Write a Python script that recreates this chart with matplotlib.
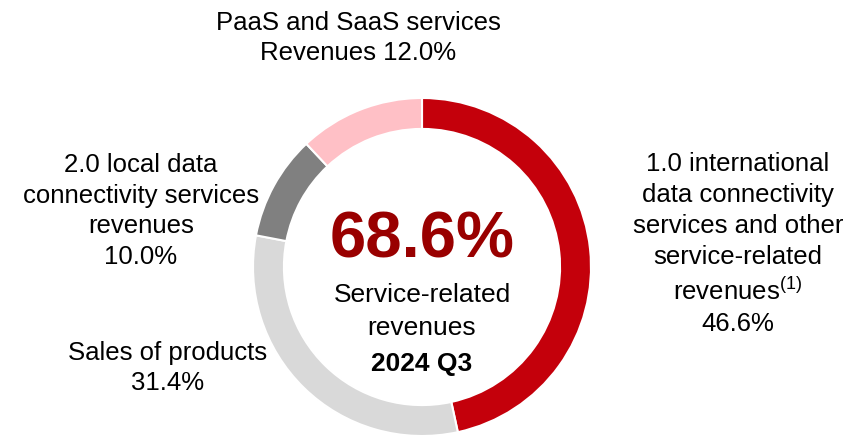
import matplotlib
matplotlib.use('Agg')
import matplotlib.pyplot as plt

plt.rcParams['font.family']=['Liberation Sans','DejaVu Sans']
plt.rcParams['mathtext.fontset']='custom'
plt.rcParams['mathtext.rm']='Liberation Sans'
plt.rcParams['mathtext.it']='Liberation Sans'

categories=['1.0 international data connectivity services and other service-related revenues',
            'Sales of products',
            '2.0 local data connectivity services revenues',
            'PaaS and SaaS services Revenues']
shares=[46.6,31.4,10.0,12.0]
colors=['#C4000B','#D9D9D9','#808080','#FFC0C6']
service_share=68.6
period='2024 Q3'

fig=plt.figure(figsize=(8.48,4.37),dpi=100)
ax=fig.add_axes([0,0,1,1])

cx,cy,r=422,267,169
# y axis is flipped below, so counterclock here reads clockwise on screen
ax.pie(shares,colors=colors,startangle=-90,counterclock=True,center=(cx,cy),radius=r,
       wedgeprops=dict(width=r*0.183,edgecolor='white',linewidth=1.5),normalize=True)
ax.set_xlim(0,848)
ax.set_ylim(437,0)
ax.set_aspect('equal')
ax.axis('off')

fs=18.5
ax.text(cx,240,f'{service_share:.1f}%',ha='center',va='center',fontsize=47,
        fontweight='bold',color='#990000')
ax.text(cx,295,'Service-related',ha='center',va='center',fontsize=19)
ax.text(cx,328,'revenues',ha='center',va='center',fontsize=19)
ax.text(cx,364,period,ha='center',va='center',fontsize=19,fontweight='bold')

ax.text(738,244,'1.0 international\ndata connectivity\nservices and other\nservice-related\nrevenues$^{(1)}$\n'
        +f'{shares[0]:.1f}%',ha='center',va='center',fontsize=fs,linespacing=1.38)
ax.text(168,368,f'Sales of products\n{shares[1]:.1f}%',ha='center',va='center',fontsize=fs,linespacing=1.3)
ax.text(141,211,f'2.0 local data\nconnectivity services\nrevenues\n{shares[2]:.1f}%',
        ha='center',va='center',fontsize=fs,linespacing=1.35)
ax.text(358,38,f'PaaS and SaaS services\nRevenues {shares[3]:.1f}%',ha='center',va='center',
        fontsize=fs,linespacing=1.3)

fig.savefig('out.png',dpi=100)
